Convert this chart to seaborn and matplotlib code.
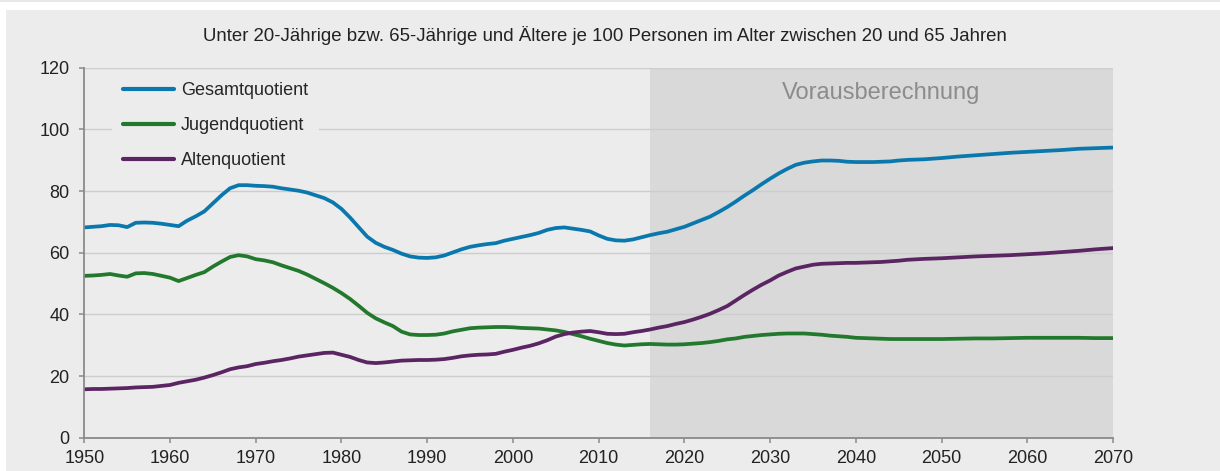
import pandas as pd
import matplotlib
matplotlib.use("Agg")
import matplotlib.pyplot as plt
import seaborn as sns
from matplotlib.patches import Rectangle

jahre = list(range(1950, 2047)) + list(range(2048, 2071, 2))

gesamt = [68.2, 68.4, 68.6, 69.0, 68.9, 68.3, 69.7, 69.8, 69.7, 69.4,
          69.0, 68.6, 70.4, 71.8, 73.4, 76.0, 78.6, 80.9, 81.9, 81.9,
          81.7, 81.6, 81.4, 80.9, 80.5, 80.1, 79.5, 78.6, 77.7, 76.3,
          74.2, 71.4, 68.3, 65.2, 63.2, 61.9, 60.9, 59.7, 58.8, 58.4,
          58.3, 58.5, 59.1, 60.1, 61.1, 61.9, 62.4, 62.8, 63.1, 63.9,
          64.5, 65.1, 65.7, 66.4, 67.4, 68.0, 68.2, 67.8, 67.4, 66.9,
          65.6, 64.5, 64.0, 63.9, 64.3, 65.0, 65.7, 66.3, 66.8, 67.6,
          68.4, 69.5, 70.6, 71.7, 73.2, 74.8, 76.6, 78.5, 80.3, 82.2,
          84.0, 85.7, 87.2, 88.5, 89.2, 89.6, 89.9, 89.9, 89.8, 89.5,
          89.4, 89.4, 89.4, 89.5, 89.6, 89.9, 90.1,
          90.3, 90.7, 91.2, 91.6, 92.0, 92.4, 92.7, 93.0, 93.3, 93.7, 93.9, 94.1]

jugend = [52.5, 52.6, 52.8, 53.1, 52.6, 52.2, 53.3, 53.4, 53.1, 52.5,
          51.9, 50.8, 51.8, 52.8, 53.7, 55.5, 57.1, 58.6, 59.2, 58.8,
          57.9, 57.5, 56.9, 55.9, 55.0, 54.1, 52.9, 51.5, 50.1, 48.6,
          46.9, 45.0, 42.8, 40.5, 38.7, 37.4, 36.2, 34.4, 33.5, 33.3,
          33.3, 33.4, 33.8, 34.5, 35.0, 35.5, 35.7, 35.8, 35.9, 35.9,
          35.8, 35.6, 35.5, 35.4, 35.1, 34.8, 34.3, 33.6, 32.9, 32.1,
          31.4, 30.7, 30.2, 29.9, 30.1, 30.3, 30.4, 30.3, 30.2, 30.2,
          30.3, 30.5, 30.7, 31.0, 31.4, 31.9, 32.2, 32.7, 33.0, 33.3,
          33.5, 33.7, 33.8, 33.8, 33.8, 33.6, 33.4, 33.1, 32.9, 32.7,
          32.4, 32.3, 32.2, 32.1, 32.0, 32.0, 32.0,
          32.0, 32.0, 32.1, 32.2, 32.2, 32.3, 32.4, 32.4, 32.4, 32.4, 32.3, 32.3]

alten = [15.7, 15.8, 15.8, 15.9, 16.0, 16.1, 16.3, 16.4, 16.5, 16.8,
         17.1, 17.8, 18.3, 18.8, 19.5, 20.3, 21.2, 22.2, 22.8, 23.2,
         23.9, 24.3, 24.8, 25.2, 25.7, 26.3, 26.7, 27.1, 27.5, 27.6,
         26.9, 26.2, 25.2, 24.4, 24.2, 24.4, 24.7, 25.0, 25.1, 25.2,
         25.2, 25.3, 25.5, 25.9, 26.4, 26.7, 26.9, 27.0, 27.2, 27.9,
         28.5, 29.2, 29.8, 30.6, 31.6, 32.8, 33.6, 34.1, 34.4, 34.6,
         34.2, 33.7, 33.6, 33.7, 34.2, 34.6, 35.1, 35.7, 36.2, 36.9,
         37.5, 38.3, 39.2, 40.2, 41.4, 42.7, 44.5, 46.3, 48.0, 49.6,
         51.0, 52.6, 53.8, 54.9, 55.5, 56.1, 56.4, 56.5, 56.6, 56.7,
         56.7, 56.8, 56.9, 57.0, 57.2, 57.4, 57.7,
         58.0, 58.2, 58.5, 58.8, 59.0, 59.2, 59.5, 59.8, 60.2, 60.6, 61.1, 61.5]

namen = ["Gesamtquotient", "Jugendquotient", "Altenquotient"]
farben = ["#0b78ad", "#22792d", "#5b2463"]
x_ticks = list(range(1950, 2071, 10))
y_ticks = list(range(0, 121, 20))

df = pd.DataFrame({"Jahr": jahre * 3,
                   "Wert": gesamt + jugend + alten,
                   "Reihe": [n for n in namen for _ in jahre]})

sns.set_theme(style="white")
plt.rcParams["font.family"] = ["Liberation Sans", "DejaVu Sans"]

bg = "#ececec"
fig = plt.figure(figsize=(12.2, 4.71), dpi=100, facecolor="white")
fig.add_artist(Rectangle((0, 469 / 471), 1, 2 / 471, transform=fig.transFigure,
                         facecolor="#e8e8e8", edgecolor="none", zorder=-5))
fig.add_artist(Rectangle((5.5 / 1220, 0), 1, 461 / 471, transform=fig.transFigure,
                         facecolor=bg, edgecolor="none", zorder=-5))

ax = fig.add_axes([84.3 / 1220, 33.3 / 471, 1028.7 / 1220, 370 / 471])
ax.set_facecolor(bg)
ax.axvspan(2016, 2070, color="#d9d9d9", zorder=0, lw=0)

sns.lineplot(data=df, x="Jahr", y="Wert", hue="Reihe", hue_order=namen,
             palette=farben, linewidth=2.7, ax=ax, sort=True, estimator=None)

ax.set_xlim(1950, 2070)
ax.set_ylim(0, 120)
ax.set_xticks(x_ticks)
ax.set_yticks(y_ticks)
ax.set_xlabel("")
ax.set_ylabel("")
ax.set_axisbelow(True)
ax.yaxis.grid(True, color="#cdcdcd", linewidth=1)
ax.xaxis.grid(False)
for s in ["top", "right"]:
    ax.spines[s].set_visible(False)
for s in ["left", "bottom"]:
    ax.spines[s].set_color("#8a8a8a")
    ax.spines[s].set_linewidth(1.3)
ax.tick_params(axis="both", labelsize=13, colors="#8a8a8a", labelcolor="#222222",
               length=3.6, width=1.1)
ax.tick_params(axis="y", pad=7, left=True)
ax.tick_params(axis="x", pad=5.5, bottom=True)

ax.text(2042.9, 111.9, "Vorausberechnung", fontsize=17, color="#8c8c8c",
        ha="center", va="center")

leg = ax.legend(loc="upper left", bbox_to_anchor=(0.027, 0.99), borderaxespad=0,
                frameon=True, facecolor=bg, edgecolor="none", framealpha=1,
                fontsize=13, handlelength=2.85, handletextpad=0.35,
                labelspacing=1.0, borderpad=0.6, fancybox=False)
for h in leg.get_lines():
    h.set_linewidth(3)

fig.text(604.5 / 1220, 1 - 35.3 / 471,
         "Unter 20-Jährige bzw. 65-Jährige und Ältere je 100 Personen im Alter zwischen 20 und 65 Jahren",
         ha="center", va="center", fontsize=13.4, color="#222222")

fig.savefig("out.png", dpi=100, facecolor="white")
